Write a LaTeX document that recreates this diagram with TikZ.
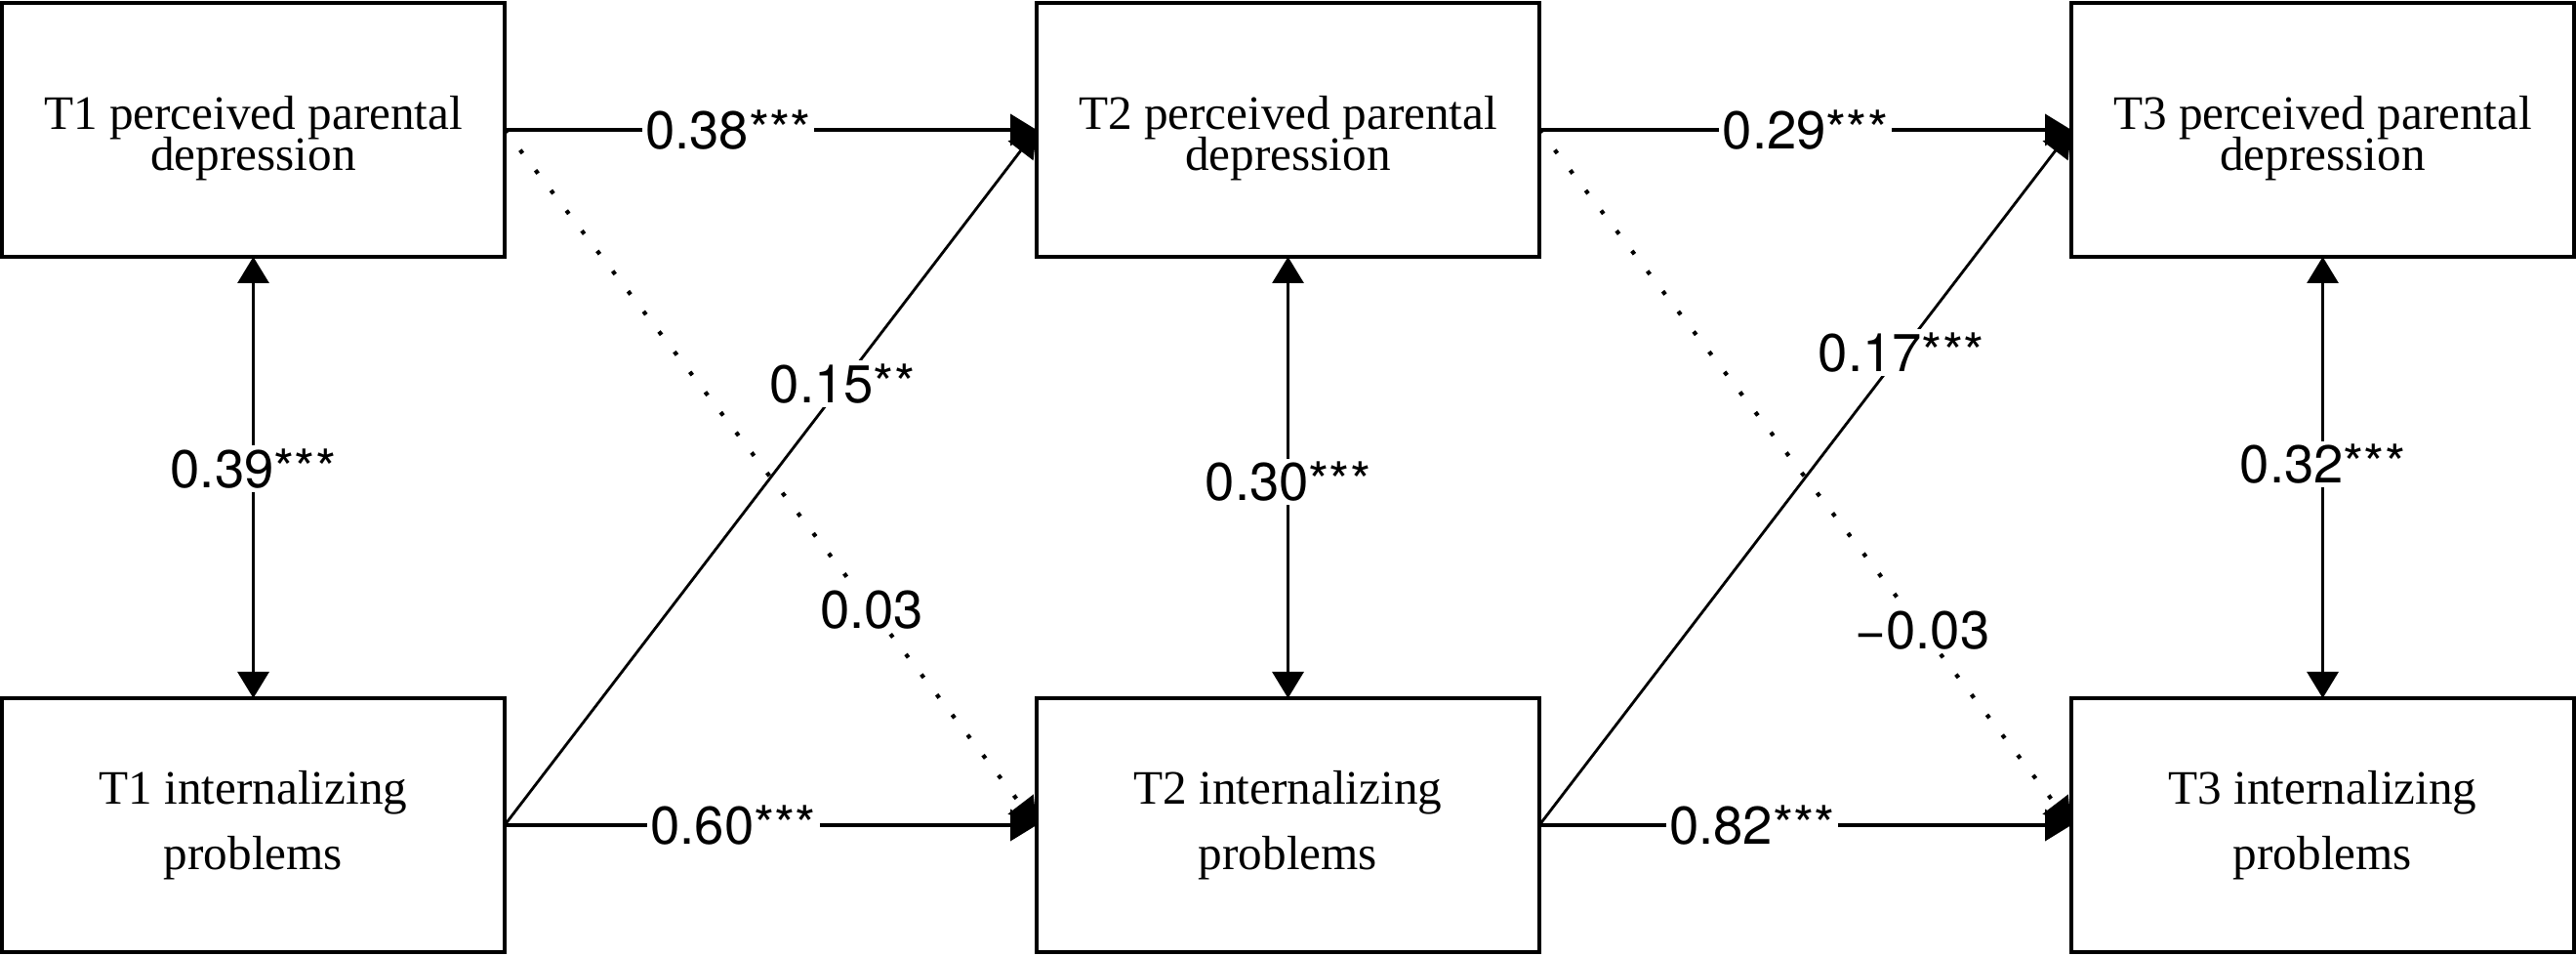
\documentclass[tikz,border=0pt]{standalone}
\usepackage{fontspec}
\setmainfont{Liberation Serif}
\newfontfamily\zahlfont{TeX Gyre Heros}
\usetikzlibrary{arrows.meta,positioning}
\newcommand{\engzeilen}{\fontsize{14pt}{12pt}\selectfont\lineskiplimit=-20pt\relax}
\newcommand{\oben}{\rule{0pt}{14.5pt}}

\begin{document}
\begin{tikzpicture}[node distance=10.6cm,>={Triangle[length=0.27cm,width=0.32cm]}]
\tikzstyle{konstrukt}=[draw,line width=1pt,rectangle,minimum width=5.15cm,minimum height=2.6cm,outer sep=0pt,align=center]
\tikzstyle{eng}=[font=\engzeilen]
\tikzstyle{weit}=[font=\fontsize{14pt}{19pt}\selectfont]
\tikzstyle{pfad}=[->,line width=1.1pt,every node/.style={fill=white,inner sep=1pt,font=\zahlfont\fontsize{15.5pt}{18pt}\selectfont}]
\tikzstyle{quer}=[pfad,line width=0.8pt]
\tikzstyle{ns}=[pfad,line width=1.2pt,dash pattern=on 1.2pt off 6.2pt]
\tikzstyle{korr}=[pfad,<->,line width=0.9pt]

\useasboundingbox (0,0) rectangle (26.39,9.79);

% obere Reihe: wahrgenommene Depression der Eltern
\node[konstrukt,eng] (t1dep) at (2.595,8.46) {\oben T1 perceived parental\\depression};
\node[konstrukt,eng,right of=t1dep] (t2dep) {\oben T2 perceived parental\\depression};
\node[konstrukt,eng,right of=t2dep] (t3dep) {\oben T3 perceived parental\\depression};

% untere Reihe: internalisierende Probleme
\node[konstrukt,weit,node distance=7.12cm,below of=t1dep] (t1int) {T1 internalizing\\problems};
\node[konstrukt,weit,right of=t1int] (t2int) {T2 internalizing\\problems};
\node[konstrukt,weit,right of=t2int] (t3int) {T3 internalizing\\problems};

\draw[korr] (t1dep) to node[pos=0.48] {0.39***} (t1int);
\draw[korr] (t2dep) to node[pos=0.51] {0.30***} (t2int);
\draw[korr] (t3dep) to node[pos=0.47] {0.32***} (t3int);

\draw[pfad] (t1dep.east) to node[pos=0.42] {0.38***} (t2dep.west);
\draw[pfad] (t2dep.east) to node[pos=0.50] {0.29***} (t3dep.west);
\draw[pfad] (t1int.east) to node[pos=0.43] {0.60***} (t2int.west);
\draw[pfad] (t2int.east) to node[pos=0.40] {0.82***} (t3int.west);

\draw[quer] (t1int.east) to node[pos=0.635] {0.15**} (t2dep.west);
\draw[quer] (t2int.east) to node[pos=0.68] {0.17***} (t3dep.west);

\draw[ns] (t1dep.east) to node[pos=0.69] {0.03} (t2int.west);
\draw[ns] (t2dep.east) to node[pos=0.72] {−0.03} (t3int.west);
\end{tikzpicture}
\end{document}
